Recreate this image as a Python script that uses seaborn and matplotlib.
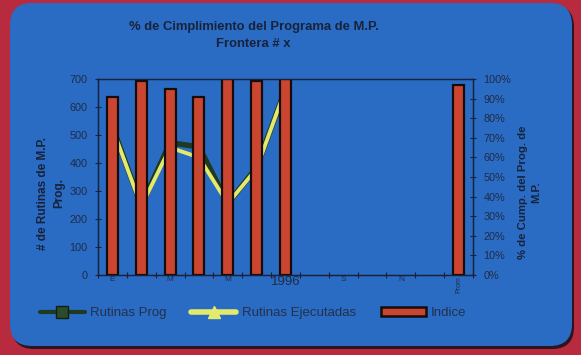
import numpy as np
import pandas as pd
import matplotlib
matplotlib.use("Agg")
import matplotlib.pyplot as plt
from matplotlib.patches import FancyBboxPatch, Patch
from matplotlib.lines import Line2D
from matplotlib.ticker import FuncFormatter
import seaborn as sns

# ---- data ----
months = ["Ene", "Feb", "Mar", "Abr", "May", "Jun", "Jul",
          "Ago", "Sep", "Oct", "Nov", "Dic", "Prom"]
month_ticks = ["E", "", "M", "", "M", "", "1996", "", "S", "", "N", "", "Prom"]
rutinas_prog = [530, 248, 472, 458, 255, 384, 665]
rutinas_ejec = [525, 245, 455, 420, 255, 380, 665]
indice = [91, 99, 95, 91, 100, 99, 100, None, None, None, None, None, 97]

title_1 = "% de Cimplimiento del Programa de M.P."
title_2 = "Frontera # x"
left_label = "# de Rutinas de M.P.\nProg."
right_label = "% de Cump. del Prog. de\nM.P."
legend_labels = ["Rutinas Prog", "Rutinas Ejecutadas", "Indice"]

# ---- style ----
sns.set_style("ticks")
plt.rcParams["font.family"] = ["Liberation Sans", "DejaVu Sans"]

BG_RED = "#b82a3e"
PANEL = "#2a6cc4"
INK = "#18223a"
TICK_INK = "#1f2b46"
BAR = "#cb4630"
BAR_EDGE = "#150c0c"
PROG = "#1e3a22"
EJEC = "#e4ea6c"

W, H = 581, 355
fig = plt.figure(figsize=(W / 100, H / 100), dpi=100)
fig.patch.set_facecolor(BG_RED)

# rounded blue panel with a dark drop edge, kept behind the axes
shadow = FancyBboxPatch((0.12, 0.06), 5.62, 3.44,
                        boxstyle="round,pad=0,rounding_size=0.22",
                        transform=fig.dpi_scale_trans,
                        fc="#2a1520", ec="none", zorder=-3)
panel = FancyBboxPatch((0.10, 0.09), 5.62, 3.43,
                       boxstyle="round,pad=0,rounding_size=0.22",
                       transform=fig.dpi_scale_trans,
                       fc=PANEL, ec="none", zorder=-2)
fig.patches.extend([shadow, panel])

ax = fig.add_axes([98 / W, 80 / H, 375 / W, 196 / H])
ax.set_facecolor("none")
ax2 = ax.twinx()
ax2.set_facecolor("none")

pos = np.arange(len(months))
line_pos = pos[:len(rutinas_ejec)]

# routine counts on the left axis (drawn beneath the bars)
sns.lineplot(x=line_pos, y=rutinas_prog, ax=ax, color=PROG, linewidth=4.0,
             marker="s", markersize=5, markeredgecolor=PROG, legend=False)
sns.lineplot(x=line_pos, y=rutinas_ejec, ax=ax, color=EJEC, linewidth=2.8,
             marker="^", markersize=5, markeredgecolor=EJEC, legend=False)

# compliance index bars on the right axis
bars = pd.DataFrame({"pos": pos, "indice": indice}).dropna()
sns.barplot(data=bars, x="pos", y="indice", ax=ax2, native_scale=True,
            color=BAR, saturation=1, width=0.38,
            edgecolor=BAR_EDGE, linewidth=1.6)

ax.set_xlim(-0.5, len(months) - 0.5)
ax.set_ylim(0, 700)
ax2.set_ylim(0, 100)
ax.set_yticks(np.arange(0, 701, 100))
ax2.set_yticks(np.arange(0, 101, 10))
ax2.yaxis.set_major_formatter(FuncFormatter(lambda v, p: f"{v:.0f}%"))

# boundary ticks between months, labels at month centres
ax.set_xticks(np.arange(-0.5, len(months), 1))
ax.set_xticklabels([])
ax.set_xticks(pos, minor=True)
ax.set_xticklabels(month_ticks, minor=True)
ax2.set_xticks(np.arange(-0.5, len(months), 1))
ax2.set_xticklabels([])
ax.tick_params(axis="x", which="major", direction="inout", length=4,
               width=0.8, color=INK)
ax.tick_params(axis="x", which="minor", length=0, pad=1,
               labelsize=6, labelcolor=TICK_INK)
for t in ax.get_xticklabels(minor=True):
    if t.get_text() == "1996":
        t.set_fontsize(9.5)
    if t.get_text() == "Prom":
        t.set_rotation(90)
        t.set_fontsize(5)

ax.tick_params(axis="y", direction="inout", length=5, width=0.8,
               color=INK, labelsize=7.8, labelcolor=TICK_INK, pad=5)
ax2.tick_params(axis="y", direction="inout", length=5, width=0.8,
                color=INK, labelsize=7.8, labelcolor=TICK_INK, pad=5)

ax.set_xlabel("")
ax.set_ylabel("")
ax2.set_xlabel("")
ax2.set_ylabel("")
for a in (ax, ax2):
    for s in a.spines.values():
        s.set_visible(True)
        s.set_color(INK)
        s.set_linewidth(0.9)

# titles and axis labels
fig.text(254 / W, 1 - 27 / H, title_1, ha="center", va="center",
         fontsize=9.4, fontweight="bold", color=INK)
fig.text(253 / W, 1 - 44 / H, title_2, ha="center", va="center",
         fontsize=9.4, fontweight="bold", color=INK)
fig.text(51 / W, 1 - 193 / H, left_label, rotation=90, ha="center",
         va="center", multialignment="center", fontsize=8.5,
         fontweight="bold", color=INK, linespacing=1.4)
fig.text(530 / W, 1 - 192 / H, right_label, rotation=90, ha="center",
         va="center", multialignment="center", fontsize=8.2,
         fontweight="bold", color=INK, linespacing=1.4)

# legend
handles = [
    Line2D([], [], color=PROG, lw=3, marker="s", markersize=8,
           markerfacecolor="#2c4a2c", markeredgecolor="#10200f"),
    Line2D([], [], color=EJEC, lw=4, marker="^", markersize=8,
           markerfacecolor=EJEC, markeredgecolor=EJEC),
    Patch(facecolor=BAR, edgecolor=BAR_EDGE, linewidth=1.8),
]
fig.legend(handles, legend_labels, loc="center",
           bbox_to_anchor=(253 / W, 1 - 313 / H), ncol=3, frameon=False,
           fontsize=9.5, handlelength=3.4, handletextpad=0.4,
           columnspacing=1.9, labelcolor="#24304a")

fig.savefig("out.png", dpi=100, facecolor=fig.get_facecolor())
